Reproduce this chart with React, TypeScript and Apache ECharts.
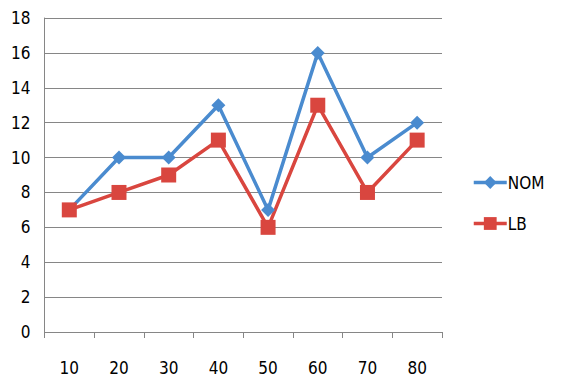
import React, { useEffect, useRef } from "react";
import * as echarts from "echarts";

const categories = ["10", "20", "30", "40", "50", "60", "70", "80"];
const nomValues = [7, 10, 10, 13, 7, 16, 10, 12];
const lbValues = [7, 8, 9, 11, 6, 13, 8, 11];

const FONT = "'Liberation Sans Narrow', 'DejaVu Sans Condensed', sans-serif";

export default function App() {
  const ref = useRef<HTMLDivElement>(null);
  useEffect(() => {
    const chart = echarts.init(ref.current!, null, { renderer: "svg" });
    chart.setOption({
      animation: false,
      backgroundColor: "#ffffff",
      grid: { left: 36, right: 111, top: 10, bottom: 45, containLabel: false },
      legend: {
        orient: "vertical",
        left: 459,
        top: 161,
        itemGap: 24,
        itemWidth: 33,
        itemHeight: 16,
        lineStyle: { width: 3.5 },
        textStyle: { fontFamily: FONT, fontSize: 17, color: "#000", padding: [0, 0, 0, -4] },
        data: ["NOM", "LB"],
      },
      xAxis: {
        type: "category",
        data: categories,
        boundaryGap: true,
        axisLine: { lineStyle: { color: "#868686", width: 1 } },
        axisTick: { show: true, length: 6, lineStyle: { color: "#868686" } },
        axisLabel: { fontFamily: FONT, fontSize: 17, color: "#000", margin: 27 },
      },
      yAxis: {
        type: "value",
        min: 0,
        max: 18,
        interval: 2,
        axisLine: { show: true, lineStyle: { color: "#868686", width: 1 } },
        axisTick: { show: false },
        splitLine: { lineStyle: { color: "#868686", width: 1 } },
        axisLabel: { fontFamily: FONT, fontSize: 17, color: "#000", margin: 14 },
      },
      series: [
        {
          name: "NOM",
          type: "line",
          data: nomValues,
          symbol: "diamond",
          symbolSize: 14,
          itemStyle: { color: "#4a8bcf" },
          lineStyle: { color: "#4a8bcf", width: 3.5 },
        },
        {
          name: "LB",
          type: "line",
          data: lbValues,
          symbol: "rect",
          symbolSize: 15,
          itemStyle: { color: "#d9463f" },
          lineStyle: { color: "#d9463f", width: 3.5 },
        },
      ],
    });
    return () => chart.dispose();
  }, []);
  return <div ref={ref} style={{ width: 545, height: 369 }} />;
}
